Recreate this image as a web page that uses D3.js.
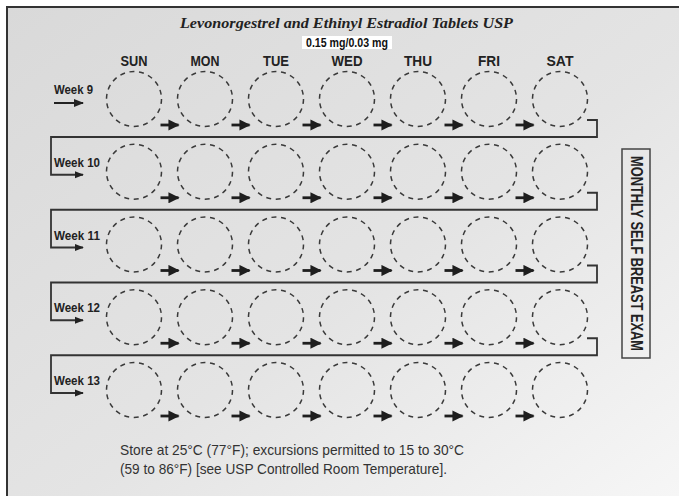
<!DOCTYPE html>
<html>
<head>
<meta charset="utf-8">
<script src="https://cdn.jsdelivr.net/npm/d3@7"></script>
<style>
  html, body { margin: 0; padding: 0; background: #fff; }
  svg { display: block; }
</style>
</head>
<body>
<svg id="chart" width="679" height="496"></svg>
<script>
// ---- data ----
const titleText = "Levonorgestrel and Ethinyl Estradiol Tablets USP";
const doseText = "0.15 mg/0.03 mg";
const days = ["SUN", "MON", "TUE", "WED", "THU", "FRI", "SAT"];
const dayLabelWidths = [27, 29, 26, 31, 28, 22, 27];
const weeks = ["Week 9", "Week 10", "Week 11", "Week 12", "Week 13"];
const weekLabelWidths = [39, 46, 46, 46, 46];
const sideLabel = "MONTHLY SELF BREAST EXAM";
const footerLines = [
  "Store at 25°C (77°F); excursions permitted to 15 to 30°C",
  "(59 to 86°F) [see USP Controlled Room Temperature]."
];
const footerWidths = [344, 327];

// ---- drawing ----
const W = 679, H = 496;
const svg = d3.select("#chart");
const defs = svg.append("defs");
const grad = defs.append("linearGradient").attr("id", "bg")
  .attr("x1", "0").attr("y1", "0").attr("x2", "1").attr("y2", "1");
grad.append("stop").attr("offset", "0").attr("stop-color", "#d9d9d9");
grad.append("stop").attr("offset", "0.55").attr("stop-color", "#e4e4e4");
grad.append("stop").attr("offset", "1").attr("stop-color", "#f6f6f6");

defs.append("marker").attr("id", "ah")
  .attr("viewBox", "0 0 10 10").attr("refX", 9).attr("refY", 5)
  .attr("markerWidth", 4).attr("markerHeight", 4)
  .attr("markerUnits", "strokeWidth").attr("orient", "auto")
  .append("path").attr("d", "M0,0 L10,5 L0,10 Z").attr("fill", "#1e1e1e");

defs.append("marker").attr("id", "ah2")
  .attr("viewBox", "0 0 10 10").attr("refX", 9).attr("refY", 5)
  .attr("markerWidth", 5).attr("markerHeight", 5)
  .attr("markerUnits", "strokeWidth").attr("orient", "auto")
  .append("path").attr("d", "M0,1 L10,5 L0,9 Z").attr("fill", "#222");

svg.append("rect").attr("x", 7).attr("y", 7).attr("width", W - 7).attr("height", H - 7)
  .attr("fill", "url(#bg)");
svg.append("path").attr("d", `M7,${H} V7 H${W}`)
  .attr("fill", "none").attr("stroke", "#333").attr("stroke-width", 2);

const condensed = "'Liberation Sans Narrow', 'Arial Narrow', 'Liberation Sans', Arial, sans-serif";

// scales
const x = d3.scalePoint().domain(days).range([134, 560]);
const y = d3.scalePoint().domain(weeks).range([99, 390]);
const r = 27.5;
const step = x.step();

// title
svg.append("text").attr("x", 346.5).attr("y", 28)
  .attr("text-anchor", "middle")
  .attr("font-family", "'Liberation Serif', 'DejaVu Serif', serif")
  .attr("font-style", "italic").attr("font-weight", "bold")
  .attr("font-size", 14.5).attr("fill", "#222")
  .attr("textLength", 333).attr("lengthAdjust", "spacingAndGlyphs")
  .text(titleText);

// dose box
svg.append("rect").attr("x", 302).attr("y", 36).attr("width", 90).attr("height", 13)
  .attr("fill", "#fff");
svg.append("text").attr("x", 347).attr("y", 47)
  .attr("text-anchor", "middle")
  .attr("font-family", condensed).attr("font-weight", "bold")
  .attr("font-size", 12).attr("fill", "#111")
  .attr("textLength", 82).attr("lengthAdjust", "spacingAndGlyphs")
  .text(doseText);

// day labels
svg.selectAll("text.day").data(days).join("text").attr("class", "day")
  .attr("x", d => x(d)).attr("y", 66)
  .attr("text-anchor", "middle")
  .attr("font-family", condensed).attr("font-weight", "bold")
  .attr("font-size", 15.5).attr("fill", "#222")
  .attr("textLength", (d, i) => dayLabelWidths[i]).attr("lengthAdjust", "spacingAndGlyphs")
  .text(d => d);

// week rows
const rows = svg.selectAll("g.row").data(weeks).join("g").attr("class", "row");

// week labels
rows.append("text")
  .attr("x", 54).attr("y", d => y(d) - 5)
  .attr("font-family", condensed).attr("font-weight", "bold")
  .attr("font-size", 12.5).attr("fill", "#222")
  .attr("textLength", (d, i) => weekLabelWidths[i]).attr("lengthAdjust", "spacingAndGlyphs")
  .text(d => d);

// dashed circles
rows.each(function(w) {
  const g = d3.select(this);
  g.selectAll("circle").data(days).join("circle")
    .attr("cx", d => x(d)).attr("cy", y(w)).attr("r", r)
    .attr("fill", "none").attr("stroke", "#3a3a3a")
    .attr("stroke-width", 1.5).attr("stroke-dasharray", "5,4.6");
  // arrows between circles
  g.selectAll("line.step").data(days.slice(0, -1)).join("line").attr("class", "step")
    .attr("x1", d => x(d) + step / 2 - 9).attr("x2", d => x(d) + step / 2 + 9)
    .attr("y1", y(w) + 26).attr("y2", y(w) + 26)
    .attr("stroke", "#1e1e1e").attr("stroke-width", 2.8)
    .attr("marker-end", "url(#ah)");
});

// first week entry arrow
svg.append("line")
  .attr("x1", 54).attr("x2", 83)
  .attr("y1", y(weeks[0]) + 4).attr("y2", y(weeks[0]) + 4)
  .attr("stroke", "#222").attr("stroke-width", 2)
  .attr("marker-end", "url(#ah2)");

// connectors between weeks
const xLast = x(days[days.length - 1]);
svg.selectAll("path.conn").data(weeks.slice(0, -1)).join("path").attr("class", "conn")
  .attr("d", (w, i) => {
    const y0 = y(w), y1 = y(weeks[i + 1]);
    return `M${xLast + 27},${y0 + 21} H${xLast + 37} V${y0 + 38} H51 V${y1 + 3} H83`;
  })
  .attr("fill", "none").attr("stroke", "#333").attr("stroke-width", 1.8)
  .attr("marker-end", "url(#ah2)");

// side label
svg.append("rect").attr("x", 622).attr("y", 149).attr("width", 28).attr("height", 209)
  .attr("fill", "none").attr("stroke", "#444").attr("stroke-width", 1.5);
svg.append("text")
  .attr("transform", "translate(630.5,253.5) rotate(90)")
  .attr("text-anchor", "middle")
  .attr("font-family", condensed).attr("font-weight", "bold")
  .attr("font-size", 16).attr("fill", "#222")
  .attr("textLength", 195).attr("lengthAdjust", "spacingAndGlyphs")
  .text(sideLabel);

// footer
svg.selectAll("text.foot").data(footerLines).join("text").attr("class", "foot")
  .attr("x", 120).attr("y", (d, i) => 455 + i * 19)
  .attr("font-family", condensed)
  .attr("font-size", 15).attr("fill", "#333")
  .attr("textLength", (d, i) => footerWidths[i]).attr("lengthAdjust", "spacingAndGlyphs")
  .text(d => d);
</script>
</body>
</html>
